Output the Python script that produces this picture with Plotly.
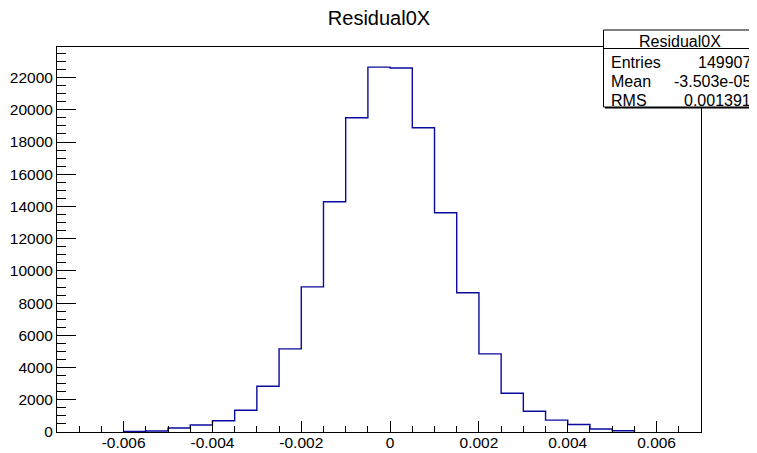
import numpy as np
import plotly.graph_objects as go

# bin edges of Residual0X (width 0.0005) and the counts in each bin
bin_edges = np.arange(-0.006, 0.00551, 0.0005)
counts = [
    40, 60, 245, 430, 694, 1350, 2840, 5160, 9010, 14290, 19510,
    22650, 22600, 18890, 13610, 8640, 4850, 2410, 1285, 735, 470, 185, 80,
]

x_ticks = [-0.006, -0.004, -0.002, 0, 0.002, 0.004, 0.006]
x_tick_labels = ["-0.006", "-0.004", "-0.002", "0", "0.002", "0.004", "0.006"]
y_ticks = list(range(0, 22001, 2000))
y_tick_labels = [str(v) for v in y_ticks]

stats_title = "Residual0X"
stats_names = ["Entries", "Mean", "RMS"]
stats_values = ["149907", "-3.503e-05", "0.001391"]

# the page body has an 8px margin, so the figure is drawn 8px in from the corner
OFF = 8
W, H = 757 - OFF, 453 - OFF
L, R, T, B = 57, 701, 47, 432  # plot frame in window pixels
FONT = "Liberation Sans, Arial, Helvetica, sans-serif"


def px(x):
    return (x - L) / (R - L)


def py(y):
    return (B - y) / (B - T)


fig = go.Figure()
fig.add_trace(
    go.Scatter(
        x=np.concatenate([[bin_edges[0]], bin_edges]),
        y=np.concatenate([[0], counts, [0]]),
        mode="lines",
        line=dict(shape="hv", color="#0a0a9e", width=1.4),
        hoverinfo="skip",
        showlegend=False,
    )
)

axis_common = dict(
    showgrid=False,
    zeroline=False,
    showline=True,
    linecolor="black",
    linewidth=1,
    mirror=True,
    ticks="inside",
    tickcolor="black",
    tickwidth=1,
    tickmode="array",
    automargin=False,
    tickfont=dict(family=FONT, size=15.5, color="black"),
)

fig.update_xaxes(
    **axis_common,
    range=[-0.0075, 0.007],
    tickvals=x_ticks,
    ticktext=x_tick_labels,
    ticklen=11,
    ticklabelstandoff=-4,
    minor=dict(ticks="inside", ticklen=6, tickcolor="black", tickmode="linear",
               tick0=0, dtick=0.0005, showgrid=False),
)
fig.update_yaxes(
    **axis_common,
    range=[0, 23900],
    tickvals=y_ticks,
    ticktext=y_tick_labels,
    ticklen=19,
    minor=dict(ticks="inside", ticklen=9, tickcolor="black", tickmode="linear",
               tick0=0, dtick=500, showgrid=False),
)

# stats box in the top right corner
box_l, box_t, box_r, box_b = 603.5, 30, 758, 107
shapes = [
    dict(type="rect", xref="paper", yref="paper", x0=px(box_l + 1.5), x1=px(box_r + 2),
         y0=py(box_b + 1.5), y1=py(box_t + 2), fillcolor="black", line=dict(width=0)),
    dict(type="rect", xref="paper", yref="paper", x0=px(box_l), x1=px(box_r),
         y0=py(box_b), y1=py(box_t), fillcolor="white", line=dict(color="black", width=1)),
    dict(type="line", xref="paper", yref="paper", x0=px(box_l), x1=px(box_r),
         y0=py(48.5), y1=py(48.5), line=dict(color="black", width=1)),
]
annotations = [
    dict(text=stats_title, xref="paper", yref="paper", x=px(680), y=py(41),
         xanchor="center", yanchor="middle", showarrow=False,
         font=dict(family=FONT, size=16, color="black")),
]
for i, (name, val) in enumerate(zip(stats_names, stats_values)):
    yy = 62 + i * 19
    annotations.append(dict(text=name, xref="paper", yref="paper", x=px(609), y=py(yy),
                            xanchor="left", yanchor="middle", showarrow=False,
                            font=dict(family=FONT, size=16, color="black")))
    annotations.append(dict(text=val, xref="paper", yref="paper", x=px(753), y=py(yy),
                            xanchor="right", yanchor="middle", showarrow=False,
                            font=dict(family=FONT, size=16, color="black")))

fig.update_layout(
    width=W,
    height=H,
    margin=dict(l=L - OFF, r=757 - R, t=T - OFF, b=453 - B, pad=0),
    paper_bgcolor="white",
    plot_bgcolor="white",
    title=dict(text="Residual0X", x=0.5, xref="paper", y=1 - (18 - OFF) / H,
               yref="container", xanchor="center", yanchor="middle",
               font=dict(family=FONT, size=20, color="black")),
    shapes=shapes,
    annotations=annotations,
)

fig.write_html("out.html")
